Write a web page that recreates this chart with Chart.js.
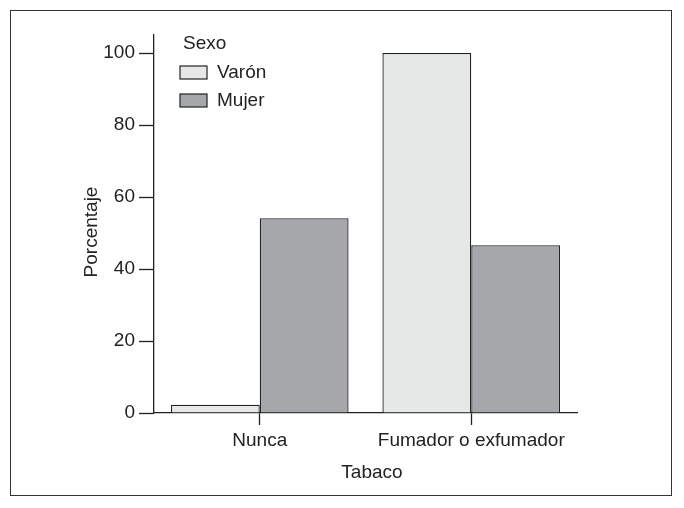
<!DOCTYPE html>
<html>
<head>
<meta charset="utf-8">
<script src="https://cdn.jsdelivr.net/npm/chart.js@4"></script>
<style>
  body { margin: 0; background: #fff; }
  #wrap { position: relative; width: 684px; height: 508px; }
  #frame { position: absolute; left: 10px; top: 10px; width: 662px; height: 486px; border: 1px solid #333; box-sizing: border-box; pointer-events: none; }
</style>
</head>
<body>
<div id="wrap">
  <canvas id="chart" width="684" height="508"></canvas>
  <div id="frame"></div>
</div>
<script>
// Data
const categories = ['Nunca', 'Fumador o exfumador'];
const varon = [2.3, 100];
const mujer = [54.1, 46.6];
const yTicks = [0, 20, 40, 60, 80, 100];

const FONT = 'Liberation Sans, Arial, sans-serif';
const INK = '#222';

// Legend and axis titles drawn by hand to sit where the original has them
const decor = {
  id: 'decor',
  afterDraw(chart) {
    const ctx = chart.ctx;
    ctx.save();
    ctx.fillStyle = INK;
    ctx.font = '19px ' + FONT;
    ctx.textBaseline = 'middle';
    ctx.textAlign = 'left';
    ctx.fillText('Sexo', 183, 44);
    chart.data.datasets.forEach((ds, i) => {
      const y = 66 + i * 28;
      ctx.fillStyle = ds.backgroundColor;
      ctx.fillRect(180, y, 27, 13);
      ctx.strokeStyle = INK;
      ctx.lineWidth = 1.2;
      ctx.strokeRect(180, y, 27, 13);
      ctx.fillStyle = INK;
      ctx.fillText(ds.label, 217, y + 7);
    });
    ctx.textAlign = 'center';
    ctx.fillText('Tabaco', 372, 473);
    ctx.translate(92, 232);
    ctx.rotate(-Math.PI / 2);
    ctx.fillText('Porcentaje', 0, 0);
    ctx.restore();
  }
};

new Chart(document.getElementById('chart'), {
  type: 'bar',
  data: {
    labels: categories,
    datasets: [
      { label: 'Varón', data: varon, backgroundColor: '#e6e8e7', borderColor: INK, borderWidth: 1.3 },
      { label: 'Mujer', data: mujer, backgroundColor: '#a6a7aa', borderColor: INK, borderWidth: 1.3 }
    ]
  },
  options: {
    responsive: false,
    animation: false,
    layout: { padding: { top: 35, right: 107, left: 0, bottom: 0 } },
    datasets: { bar: { categoryPercentage: 0.84, barPercentage: 1 } },
    plugins: { legend: { display: false }, tooltip: { enabled: false } },
    scales: {
      x: {
        afterFit: s => { s.height = 95; },
        grid: { offset: false, drawOnChartArea: false, tickLength: 12, color: INK, tickWidth: 1.3 },
        border: { color: INK, width: 1.3 },
        ticks: { color: INK, font: { family: FONT, size: 19 }, padding: 4, maxRotation: 0 }
      },
      y: {
        min: 0,
        max: 105,
        afterFit: s => { s.width = 154; },
        afterBuildTicks: s => { s.ticks = yTicks.map(v => ({ value: v })); },
        grid: { drawOnChartArea: false, tickLength: 15, color: INK, tickWidth: 1.3 },
        border: { color: INK, width: 1.3 },
        ticks: { color: INK, font: { family: FONT, size: 19 }, padding: 4 }
      }
    }
  },
  plugins: [decor]
});
</script>
</body>
</html>
